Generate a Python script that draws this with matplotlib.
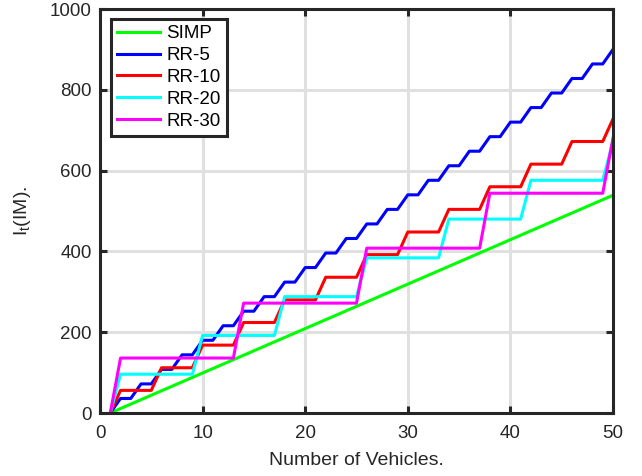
import matplotlib
matplotlib.use("Agg")
import matplotlib.pyplot as plt

plt.rcParams["font.family"] = ["Liberation Sans", "DejaVu Sans"]
plt.rcParams["mathtext.default"] = "regular"

# Data
vehicles = list(range(1, 51))

simp_x = [1, 50]
simp = [0, 539]

rr5 = [0, 36, 36, 72, 72, 108, 108, 144, 144, 180, 180, 216, 216, 252, 252,
       288, 288, 324, 324, 360, 360, 396, 396, 432, 432, 468, 468, 504, 504,
       540, 540, 576, 576, 612, 612, 648, 648, 684, 684, 720, 720, 756, 756,
       792, 792, 828, 828, 864, 864, 900]

rr10 = [0, 56, 56, 56, 56, 112, 112, 112, 112, 168, 168, 168, 168, 224, 224,
        224, 224, 280, 280, 280, 280, 336, 336, 336, 336, 392, 392, 392, 392,
        448, 448, 448, 448, 504, 504, 504, 504, 560, 560, 560, 560, 616, 616,
        616, 616, 672, 672, 672, 672, 728]

rr20 = [0, 96, 96, 96, 96, 96, 96, 96, 96, 192, 192, 192, 192, 192, 192, 192,
        192, 288, 288, 288, 288, 288, 288, 288, 288, 384, 384, 384, 384, 384,
        384, 384, 384, 480, 480, 480, 480, 480, 480, 480, 480, 576, 576, 576,
        576, 576, 576, 576, 576, 672]

rr30 = [0, 136, 136, 136, 136, 136, 136, 136, 136, 136, 136, 136, 136, 272,
        272, 272, 272, 272, 272, 272, 272, 272, 272, 272, 272, 408, 408, 408,
        408, 408, 408, 408, 408, 408, 408, 408, 408, 544, 544, 544, 544, 544,
        544, 544, 544, 544, 544, 544, 544, 680]

fig = plt.figure(figsize=(6.42, 4.76), dpi=100)
ax = fig.add_axes([100 / 642, 1 - 413 / 476, 513 / 642, 404 / 476])

lw = 2.2
ax.plot(simp_x, simp, color="#00ff00", lw=lw, label="SIMP")
ax.plot(vehicles, rr5, color="#0000ff", lw=lw, label="RR-5")
ax.plot(vehicles, rr10, color="#ff0000", lw=lw, label="RR-10")
ax.plot(vehicles, rr20, color="#00ffff", lw=lw, label="RR-20")
ax.plot(vehicles, rr30, color="#ff00ff", lw=lw, label="RR-30")

ax.set_xlim(0, 50)
ax.set_ylim(0, 1000)
ax.set_xticks([0, 10, 20, 30, 40, 50])
ax.set_yticks([0, 200, 400, 600, 800, 1000])
ax.grid(True, color="#e0e0e0", lw=2.2)
ax.set_axisbelow(True)

for s in ax.spines.values():
    s.set_linewidth(2.2)
    s.set_color("#262626")
ax.tick_params(direction="in", length=5, width=2.2, color="#262626",
               labelsize=13.5, labelcolor="#262626", top=True, right=True)
ax.tick_params(axis="x", pad=9)
ax.tick_params(axis="y", pad=6)

ax.set_xlabel("Number of Vehicles.", fontsize=14, color="#262626", labelpad=7)
ax.set_ylabel("I$_t$(IM).", fontsize=14, color="#262626", labelpad=12)

leg = ax.legend(loc="upper left", bbox_to_anchor=(0.01, 0.99), fontsize=13.5,
                fancybox=False, framealpha=1, edgecolor="#262626",
                borderpad=0.35, labelspacing=0.25, handlelength=2.3,
                handletextpad=0.3, borderaxespad=0.3)
leg.get_frame().set_linewidth(2.2)

fig.savefig("out.png", dpi=100)
